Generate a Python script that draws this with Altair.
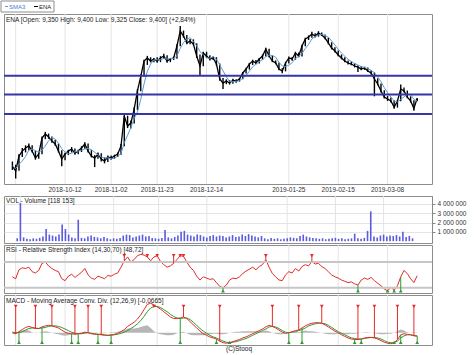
import altair as alt
import pandas as pd

FONT = "Liberation Sans"

# ---------------- data ----------------
tick_idx = [1, 16, 30, 44, 59, 84, 99, 114]
tick_lbl = ["", "2018-10-12", "2018-11-02", "2018-11-23", "2018-12-14",
            "2019-01-25", "2019-02-15", "2019-03-08"]

close = [7.805, 7.695, 8.020, 8.130, 8.200, 8.245, 8.130, 7.975, 8.065, 8.425,
         8.520, 8.450, 8.360, 8.290, 8.130, 7.955, 8.065, 8.130, 8.175, 8.085,
         8.130, 8.200, 8.290, 8.130, 8.020, 7.975, 8.065, 7.955, 7.910, 8.000,
         7.975, 8.020, 8.065, 8.245, 8.950, 8.710, 8.780, 9.125, 9.590, 9.980,
         10.410, 10.500, 10.410, 10.470, 10.410, 10.500, 10.555, 10.410, 10.470, 10.500,
         10.850, 11.305, 11.150, 10.940, 11.000, 10.910, 10.555, 10.270, 10.645, 10.555,
         10.470, 10.500, 10.325, 9.910, 9.800, 9.855, 9.800, 9.880, 9.855, 9.910,
         10.075, 10.185, 10.325, 10.410, 10.355, 10.470, 10.555, 10.760, 10.555, 10.410,
         10.355, 10.185, 10.130, 10.355, 10.500, 10.470, 10.645, 10.555, 10.850, 11.060,
         11.120, 11.215, 11.150, 11.245, 11.185, 11.090, 10.940, 10.790, 10.700, 10.585,
         10.500, 10.410, 10.355, 10.325, 10.270, 10.240, 10.185, 10.215, 10.130, 10.075,
         9.910, 9.775, 9.590, 9.430, 9.380, 9.330, 9.175, 9.330, 9.640, 9.590,
         9.430, 9.330, 9.140, 9.400]

high = [7.90, 7.83, 8.06, 8.20, 8.26, 8.30, 8.26, 8.14, 8.10, 8.46,
        8.57, 8.53, 8.46, 8.38, 8.30, 8.15, 8.09, 8.16, 8.22, 8.19,
        8.16, 8.24, 8.33, 8.30, 8.15, 8.04, 8.10, 8.08, 7.99, 8.03,
        8.03, 8.05, 8.10, 8.29, 9.00, 8.96, 8.84, 9.17, 9.64, 10.03,
        10.45, 10.56, 10.52, 10.50, 10.52, 10.55, 10.62, 10.58, 10.50, 10.54,
        10.90, 11.46, 11.32, 11.18, 11.06, 11.05, 10.93, 10.60, 10.68, 10.68,
        10.58, 10.54, 10.52, 10.34, 9.94, 9.90, 9.88, 9.92, 9.90, 9.94,
        10.10, 10.22, 10.36, 10.45, 10.44, 10.50, 10.60, 10.80, 10.77, 10.57,
        10.43, 10.37, 10.21, 10.39, 10.54, 10.53, 10.68, 10.66, 10.89, 11.10,
        11.17, 11.28, 11.24, 11.30, 11.26, 11.20, 11.10, 10.96, 10.81, 10.72,
        10.60, 10.52, 10.43, 10.40, 10.35, 10.29, 10.26, 10.25, 10.23, 10.15,
        10.09, 9.93, 9.79, 9.61, 9.46, 9.42, 9.35, 9.36, 9.76, 9.68,
        9.60, 9.45, 9.35, 9.40]

low = [7.72, 7.54, 7.70, 8.00, 8.10, 8.15, 8.10, 7.94, 7.96, 8.06,
       8.40, 8.41, 8.32, 8.25, 8.10, 7.80, 7.93, 8.04, 8.10, 8.05,
       8.06, 8.11, 8.18, 8.10, 7.99, 7.78, 7.96, 7.90, 7.86, 7.89,
       7.94, 7.96, 8.00, 8.05, 8.24, 8.66, 8.65, 8.77, 9.10, 9.58,
       9.97, 10.30, 10.37, 10.38, 10.36, 10.38, 10.47, 10.36, 10.38, 10.44,
       10.48, 10.84, 11.10, 10.90, 10.90, 10.87, 10.50, 10.00, 10.26, 10.50,
       10.43, 10.44, 10.28, 9.86, 9.64, 9.77, 9.76, 9.78, 9.81, 9.84,
       9.90, 10.06, 10.17, 10.30, 10.32, 10.34, 10.45, 10.54, 10.52, 10.38,
       10.32, 10.15, 10.07, 10.12, 10.34, 10.42, 10.45, 10.52, 10.54, 10.84,
       11.03, 11.10, 11.11, 11.13, 11.15, 11.05, 10.90, 10.75, 10.66, 10.55,
       10.46, 10.38, 10.31, 10.29, 10.23, 10.10, 10.15, 10.16, 10.10, 10.03,
       9.45, 9.74, 9.55, 9.39, 9.33, 9.29, 9.13, 9.16, 9.32, 9.55,
       9.40, 9.29, 9.08, 9.325]

# volume in thousands of shares
volume = [300, 4100, 400, 250, 200, 300, 250, 350, 500, 1300,
          700, 600, 500, 700, 1800, 1300, 700, 400, 300, 2300,
          350, 300, 500, 600, 450, 400, 300, 450, 300, 200,
          300, 250, 350, 600, 700, 650, 400, 500, 600, 700,
          500, 550, 350, 300, 250, 350, 1200, 400, 300, 450,
          600, 1000, 1100, 700, 600, 500, 700, 650, 500, 400,
          550, 650, 500, 600, 550, 400, 500, 650, 450, 500,
          700, 550, 750, 600, 500, 400, 550, 300, 200, 350,
          250, 300, 200, 250, 300, 400, 350, 300, 550, 700,
          500, 400, 350, 300, 250, 300, 200, 250, 300, 350,
          250, 300, 200, 250, 300, 800, 300, 250, 350, 1100,
          3200, 500, 400, 600, 700, 500, 600, 550, 650, 500,
          1000, 450, 550, 300]

rsi = [47, 44, 58, 61, 60, 62, 55, 53, 57, 68,
       70, 64, 60, 57, 55, 44, 41, 48, 51, 46,
       50, 54, 60, 50, 45, 43, 48, 46, 44, 49,
       48, 51, 53, 62, 72, 78, 70, 74, 80, 82,
       81, 78, 72, 78, 80, 71, 66, 62, 64, 68,
       74, 80, 79, 70, 62, 57, 48, 42, 47, 45,
       43, 44, 38, 32, 30, 34, 42, 45, 44, 47,
       52, 56, 59, 62, 58, 63, 66, 74, 62, 52,
       47, 42, 41, 50, 55, 53, 60, 56, 63, 66,
       64, 71, 67, 68, 63, 60, 55, 50, 47, 45,
       42, 40, 38, 39, 36, 34, 42, 45, 43, 46,
       41, 37, 33, 28, 25, 31, 26, 33, 47, 57,
       52, 44, 38, 48.72]

macd = [0.00, -0.02, 0.02, 0.06, 0.10, 0.12, 0.10, 0.08, 0.08, 0.11,
        0.13, 0.14, 0.13, 0.11, 0.09, 0.05, 0.01, -0.01, -0.02, -0.03,
        -0.02, -0.01, 0.01, 0.00, -0.02, -0.03, -0.03, -0.04, -0.05, -0.05,
        -0.04, -0.03, -0.01, 0.02, 0.06, 0.12, 0.16, 0.20, 0.26, 0.34,
        0.44, 0.54, 0.56, 0.53, 0.49, 0.45, 0.40, 0.35, 0.30, 0.27,
        0.27, 0.28, 0.30, 0.27, 0.21, 0.15, 0.09, 0.03, -0.02, -0.05,
        -0.08, -0.10, -0.12, -0.16, -0.19, -0.20, -0.19, -0.17, -0.15, -0.13,
        -0.10, -0.08, -0.05, -0.02, 0.01, 0.04, 0.07, 0.11, 0.14, 0.12,
        0.09, 0.05, 0.01, -0.01, 0.00, 0.02, 0.04, 0.05, 0.09, 0.13,
        0.16, 0.18, 0.19, 0.19, 0.18, 0.15, 0.11, 0.07, 0.03, 0.00,
        -0.04, -0.07, -0.10, -0.12, -0.13, -0.13, -0.12, -0.10, -0.09, -0.09,
        -0.10, -0.12, -0.15, -0.18, -0.20, -0.21, -0.19, -0.13, -0.04, -0.02,
        -0.03, -0.04, -0.06, -0.0665]

signal = [0.01, 0.00, 0.00, 0.02, 0.05, 0.08, 0.09, 0.09, 0.08, 0.09,
          0.10, 0.12, 0.13, 0.13, 0.12, 0.10, 0.07, 0.04, 0.01, -0.01,
          -0.02, -0.02, -0.01, 0.00, -0.01, -0.02, -0.03, -0.03, -0.04, -0.05,
          -0.05, -0.04, -0.03, -0.01, 0.01, 0.04, 0.08, 0.12, 0.17, 0.23,
          0.31, 0.40, 0.47, 0.50, 0.50, 0.48, 0.44, 0.40, 0.35, 0.31,
          0.28, 0.27, 0.28, 0.28, 0.25, 0.20, 0.14, 0.08, 0.03, -0.01,
          -0.05, -0.08, -0.10, -0.13, -0.16, -0.18, -0.19, -0.18, -0.17, -0.15,
          -0.13, -0.11, -0.08, -0.05, -0.02, 0.01, 0.04, 0.07, 0.11, 0.12,
          0.11, 0.08, 0.04, 0.01, 0.00, 0.01, 0.02, 0.04, 0.06, 0.09,
          0.13, 0.15, 0.17, 0.18, 0.18, 0.17, 0.14, 0.10, 0.06, 0.02,
          -0.01, -0.04, -0.07, -0.10, -0.11, -0.12, -0.12, -0.11, -0.10, -0.09,
          -0.09, -0.10, -0.12, -0.15, -0.18, -0.19, -0.19, -0.16, -0.10, -0.06,
          -0.04, -0.04, -0.05, -0.06]

levels = [9.0, 9.5, 10.0]
rsi_sell = [34, 41, 44, 49, 51, 52, 77, 91]
rsi_buy = [64, 105, 114, 116, 118]
macd_sell = [1, 7, 12, 19, 23, 27, 43, 52, 63, 79, 87, 94, 105, 110, 117, 122]
macd_buy = [2, 9, 18, 20, 26, 30, 51, 62, 66, 84, 88, 104, 106, 116, 118, 123]

N = len(close)
df = pd.DataFrame({"i": list(range(N)), "close": close, "high": high, "low": low,
                   "vol": volume, "rsi": rsi, "macd": macd, "signal": signal})
one = pd.DataFrame({"a": [0]})
ticks_df = pd.DataFrame({"i": tick_idx, "lbl": tick_lbl})

W = 428
RED = "#e42a2a"
GREEN = "#2f9a2f"
TRI = 14

XS = alt.Scale(domain=[-2.55, 127.5], nice=False, zero=False)
XE = alt.X("i:Q", scale=XS, axis=None)


def vgrid():
    return alt.Chart(ticks_df).mark_rule(color="#e4e4e4", strokeWidth=1).encode(x=XE)


def txt(s, x, y, color="#222", size=6.5, align="left"):
    return alt.Chart(one).mark_text(text=s, align=align, baseline="middle",
                                    fontSize=size, font=FONT, color=color).encode(
        x=alt.value(x), y=alt.value(y))


# ---------------- main price panel ----------------
PS = alt.Scale(type="log", domain=[7.427, 11.847], nice=False)
pax = alt.Axis(values=[8, 8.5, 9, 9.5, 10, 10.5, 11, 11.5],
               labelExpr="replace(format(datum.value,'.3f'),'.',',')",
               orient="right", grid=True, title=None, labelPadding=2)

p_bars = alt.Chart(df).mark_rule(color="black", strokeWidth=1.4).encode(
    x=XE, y=alt.Y("low:Q", scale=PS, axis=pax), y2="high:Q")
p_line = alt.Chart(df).mark_line(color="black", strokeWidth=1.3).encode(
    x=XE, y=alt.Y("close:Q", scale=PS, axis=None))
p_sma = alt.Chart(df).transform_window(
    sma="mean(close)", frame=[-3, 0], sort=[alt.SortField("i")]
).mark_line(color="#5b9bd5", strokeWidth=1).encode(
    x=XE, y=alt.Y("sma:Q", scale=PS, axis=None))
p_lv = alt.Chart(pd.DataFrame({"lvl": levels})).mark_rule(
    color="#3535a8", strokeWidth=2).encode(y=alt.Y("lvl:Q", scale=PS, axis=None))
p_dates = alt.Chart(ticks_df).mark_text(
    font=FONT, fontSize=6.5, color="#333", baseline="middle", align="center"
).encode(x=XE, y=alt.value(175.5), text="lbl:N")

leg_box = alt.Chart(one).mark_rect(fill="white", stroke="#8c8c8c", strokeWidth=1).encode(
    x=alt.value(-3), x2=alt.value(50), y=alt.value(-13), y2=alt.value(-2))
leg_d1 = alt.Chart(one).mark_rule(color="#5b9bd5", strokeWidth=1).encode(
    x=alt.value(1), x2=alt.value(4), y=alt.value(-7.5))
leg_d2 = alt.Chart(one).mark_rule(color="black", strokeWidth=1).encode(
    x=alt.value(30), x2=alt.value(34), y=alt.value(-7.5))

main = alt.layer(
    vgrid(), p_bars, p_line, p_sma, p_lv, p_dates,
    txt("ENA [Open: 9,350  High: 9,400  Low: 9,325  Close: 9,400] (+2,84%)", 2, 6),
    leg_box, leg_d1, leg_d2,
    txt("SMA3", 5, -7.5, color="#3a7fd5", size=6),
    txt("ENA", 35, -7.5, color="#222", size=6),
).properties(width=W, height=170)

# ---------------- volume panel ----------------
VS = alt.Scale(domain=[-200, 4850], nice=False, zero=False)
vax = alt.Axis(values=[1000, 2000, 3000, 4000],
               labelExpr="format(datum.value/1000,'d') + ' 000 000'",
               orient="right", grid=True, title=None, labelPadding=2)
v_bars = alt.Chart(df).mark_bar(color="#5a5ae2", width=1.6).encode(
    x=XE, y=alt.Y("vol:Q", scale=VS, axis=vax), y2=alt.datum(0))
vol = alt.layer(vgrid(), v_bars, txt("VOL - Volume [118 153]", 2, 4.5)).properties(
    width=W, height=47)

# ---------------- RSI panel ----------------
RS = alt.Scale(domain=[21.7, 96.7], nice=False, zero=False)
rax = alt.Axis(values=[40, 60, 80], orient="right", grid=False, title=None, labelPadding=2)
r_ref = alt.Chart(pd.DataFrame({"v": [30, 70]})).mark_rule(
    color="#c6c6c6", strokeWidth=2).encode(y=alt.Y("v:Q", scale=RS, axis=None))
r_line = alt.Chart(df).mark_line(color=RED, strokeWidth=1).encode(
    x=XE, y=alt.Y("rsi:Q", scale=RS, axis=rax))
rs_df = pd.DataFrame({"i": rsi_sell, "v": [rsi[k] for k in rsi_sell]})
rb_df = pd.DataFrame({"i": rsi_buy, "v": [rsi[k] for k in rsi_buy]})
r_srule = alt.Chart(rs_df).mark_rule(color=RED, strokeWidth=1).encode(
    x=XE, y=alt.Y("v:Q", scale=RS, axis=None), y2=alt.datum(80))
r_stri = alt.Chart(rs_df).mark_point(shape="triangle-down", filled=True, color=RED,
                                     size=TRI, opacity=1).encode(
    x=XE, y=alt.YDatum(80, axis=None))
r_brule = alt.Chart(rb_df).mark_rule(color=GREEN, strokeWidth=1).encode(
    x=XE, y=alt.Y("v:Q", scale=RS, axis=None), y2=alt.datum(25))
r_btri = alt.Chart(rb_df).mark_point(shape="triangle-up", filled=True, color=GREEN,
                                     size=TRI, opacity=1).encode(
    x=XE, y=alt.YDatum(25, axis=None))
rsi_c = alt.layer(vgrid(), r_line, r_ref, r_srule, r_brule, r_stri, r_btri,
                  txt("RSI - Relative Strength Index (14,30,70) [48,72]", 2, 5)
                  ).properties(width=W, height=48)

# ---------------- MACD panel ----------------
MS = alt.Scale(domain=[-0.234, 0.718], nice=False, zero=False)
max_ = alt.Axis(values=[0, 0.2, 0.4], labelExpr="replace(format(datum.value,'.2f'),'.',',')",
                orient="right", grid=False, title=None, labelPadding=2)
m_hist = alt.Chart(df).transform_calculate(h="datum.macd - datum.signal").mark_area(
    color="#b6b6b6").encode(x=XE, y=alt.Y("h:Q", scale=MS, axis=max_), y2=alt.datum(0))
m_sig = alt.Chart(df).mark_line(color=GREEN, strokeWidth=1).encode(
    x=XE, y=alt.Y("signal:Q", scale=MS, axis=None))
m_line = alt.Chart(df).mark_line(color=RED, strokeWidth=1).encode(
    x=XE, y=alt.Y("macd:Q", scale=MS, axis=None))
ms_df = pd.DataFrame({"i": macd_sell, "v": [macd[k] for k in macd_sell]})
mb_df = pd.DataFrame({"i": macd_buy, "v": [macd[k] for k in macd_buy]})
m_srule = alt.Chart(ms_df).mark_rule(color=RED, strokeWidth=1).encode(
    x=XE, y=alt.Y("v:Q", scale=MS, axis=None), y2=alt.datum(0.5))
m_stri = alt.Chart(ms_df).mark_point(shape="triangle-down", filled=True, color=RED,
                                     size=TRI, opacity=1).encode(
    x=XE, y=alt.YDatum(0.5, axis=None))
m_brule = alt.Chart(mb_df).mark_rule(color=GREEN, strokeWidth=1).encode(
    x=XE, y=alt.Y("v:Q", scale=MS, axis=None), y2=alt.datum(-0.183))
m_btri = alt.Chart(mb_df).mark_point(shape="triangle-up", filled=True, color=GREEN,
                                     size=TRI, opacity=1).encode(
    x=XE, y=alt.YDatum(-0.183, axis=None))
macd_c = alt.layer(vgrid(), m_hist, m_sig, m_line, m_srule, m_brule, m_stri, m_btri,
                   txt("MACD - Moving Average Conv. Div. (12,26,9) [-0,0665]", 2, 5.5),
                   txt("(C)Stooq", 235, 54, align="center")
                   ).properties(width=W, height=50)

lower = alt.vconcat(vol, rsi_c, macd_c, spacing=0)
chart = alt.vconcat(main, lower, spacing=1).properties(
    background="white",
    padding={"left": 0, "top": 0, "right": 0, "bottom": 0},
).configure_view(stroke="#8c8c8c", strokeWidth=1).configure_axis(
    labelFont=FONT, labelFontSize=6.5, labelColor="#333", gridColor="#e4e4e4",
    tickColor="#888", tickSize=3)

chart.save("out.html", embed_options={"renderer": "svg", "actions": False})
